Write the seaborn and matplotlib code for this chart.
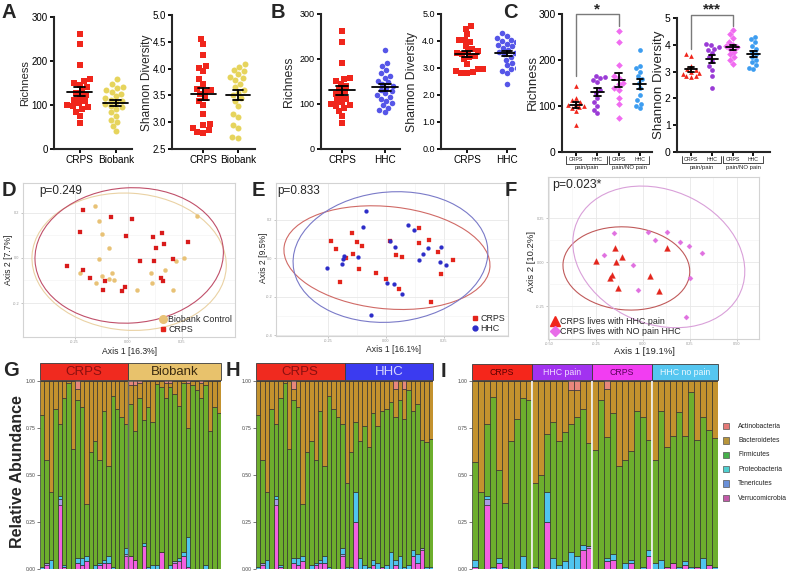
import numpy as np
import pandas as pd
import seaborn as sns
import matplotlib.pyplot as plt
from matplotlib.patches import Ellipse, Rectangle
from matplotlib.lines import Line2D

# ---------------- alpha diversity (A, B) ----------------
crps_rich = [262, 238, 191, 158, 155, 150, 145, 140, 132, 128, 122, 118, 112, 108, 104, 100, 97, 95, 92, 85, 74, 58]
crps_shan = [4.55, 4.45, 4.25, 4.05, 4.02, 3.95, 3.8, 3.72, 3.62, 3.6, 3.57, 3.52, 3.45, 3.4, 3.32, 3.15, 2.97, 2.95, 2.9, 2.86, 2.82, 2.8]
bio_rich = [158, 148, 142, 138, 134, 130, 126, 120, 116, 112, 110, 106, 102, 98, 95, 90, 84, 76, 66, 62, 52, 40]
bio_shan = [4.08, 4.03, 3.98, 3.95, 3.9, 3.85, 3.82, 3.78, 3.72, 3.65, 3.6, 3.55, 3.5, 3.45, 3.4, 3.3, 3.15, 3.1, 2.95, 2.9, 2.73, 2.7]
hhc_rich = [221, 190, 185, 176, 168, 163, 158, 152, 148, 145, 140, 136, 132, 128, 124, 120, 116, 112, 107, 102, 97, 92, 86, 82]
hhc_shan = [4.3, 4.2, 4.1, 4.05, 4.0, 3.95, 3.9, 3.85, 3.8, 3.75, 3.7, 3.65, 3.6, 3.55, 3.5, 3.4, 3.3, 3.2, 3.1, 3.0, 2.95, 2.9, 2.8, 2.4]

# ---------------- households (C) ----------------
c_names = ['CRPS pain/pain', 'HHC pain/pain', 'CRPS pain/NO pain', 'HHC pain/NO pain']
c_rich_crps_pain = [143, 118, 112, 108, 105, 102, 100, 98, 95, 90, 58]
c_rich_hhc_pain = [165, 163, 160, 157, 152, 135, 128, 118, 108, 100, 92, 84]
c_rich_crps_nopain = [262, 240, 190, 165, 160, 150, 148, 140, 135, 118, 105, 75]
c_rich_hhc_nopain = [221, 188, 182, 175, 165, 158, 150, 140, 125, 112, 105, 100, 95]
c_shan_crps_pain = [3.65, 3.6, 3.2, 3.1, 3.05, 3.0, 2.95, 2.9, 2.85, 2.82, 2.8]
c_shan_hhc_pain = [4.02, 3.98, 3.92, 3.85, 3.8, 3.7, 3.55, 3.4, 3.2, 3.05, 2.85, 2.4]
c_shan_crps_nopain = [4.55, 4.4, 4.25, 4.1, 4.0, 3.95, 3.9, 3.85, 3.75, 3.65, 3.55, 3.45, 3.3]
c_shan_hhc_nopain = [4.3, 4.22, 4.1, 3.95, 3.85, 3.75, 3.65, 3.55, 3.45, 3.35, 3.25, 3.15, 3.1]

# ---------------- PCoA (D, E, F) ----------------
d_crps_x = [-0.209, -0.081, 0.019, -0.224, -0.009, 0.118, 0.159, 0.282, 0.129, 0.168, -0.284, -0.212, 0.056, 0.121, 0.209, -0.178, -0.106, 0.156, 0.162, -0.115, -0.014, -0.029]
d_crps_y = [0.213, 0.184, 0.172, 0.117, 0.098, 0.095, 0.112, 0.072, 0.043, 0.061, -0.034, -0.053, -0.013, -0.015, -0.006, -0.090, -0.101, -0.090, -0.101, -0.142, -0.128, -0.147]
d_bio_x = [-0.153, 0.324, -0.136, -0.120, -0.089, -0.136, -0.224, -0.075, -0.120, -0.087, -0.151, -0.065, 0.106, 0.173, 0.223, 0.260, 0.114, 0.042, 0.210]
d_bio_y = [0.232, 0.188, 0.163, 0.108, 0.043, -0.006, -0.068, -0.065, -0.080, -0.095, -0.112, -0.098, -0.068, -0.053, -0.012, -0.001, -0.110, -0.141, -0.141]

e_crps_x = [-0.238, -0.216, -0.148, -0.125, -0.103, -0.144, -0.172, -0.118, -0.197, -0.043, -0.001, 0.017, 0.042, 0.070, 0.141, 0.144, 0.184, 0.225, 0.290, 0.236, 0.056, 0.193]
e_crps_y = [0.088, 0.045, 0.128, 0.082, 0.064, 0.022, 0.002, -0.056, -0.126, -0.078, -0.108, 0.088, 0.016, 0.005, 0.156, 0.079, 0.094, 0.033, -0.010, -0.083, -0.163, -0.230]
e_hhc_x = [-0.085, -0.098, -0.181, -0.185, -0.191, -0.121, -0.256, 0.017, 0.037, 0.003, 0.036, 0.069, 0.096, 0.122, 0.142, 0.158, 0.181, 0.238, 0.233, 0.257, -0.065]
e_hhc_y = [0.246, 0.159, 0.010, -0.004, -0.030, 0.007, -0.054, 0.090, 0.056, -0.131, -0.137, -0.185, 0.170, 0.145, -0.010, 0.022, 0.050, 0.059, -0.021, -0.035, -0.296]

f_pain_x = [-0.149, -0.113, -0.250, -0.144, 0.126, -0.163, -0.176, 0.037, -0.135, 0.084]
f_pain_y = [0.081, 0.030, 0.004, -0.002, 0.078, -0.074, -0.091, -0.080, -0.149, -0.163]
f_nopain_x = [-0.153, 0.028, 0.128, 0.064, 0.197, 0.243, 0.315, -0.206, -0.052, 0.248, -0.028, 0.227]
f_nopain_y = [0.163, 0.172, 0.169, 0.125, 0.112, 0.089, 0.051, 0.040, -0.015, -0.089, -0.157, -0.311]

# ---------------- relative abundance (G, H, I) ----------------
phyla = ['Verrucomicrobia', 'Tenericutes', 'Proteobacteria', 'Firmicutes', 'Bacteroidetes', 'Actinobacteria']

crps_verr = [0, 0.02, 0, 0, 0.34, 0.01, 0, 0, 0.03, 0.02, 0.04, 0, 0, 0.02, 0.03, 0.03, 0, 0, 0, 0.07]
crps_tene = [0, 0.01, 0, 0, 0.03, 0, 0, 0, 0, 0, 0, 0, 0, 0, 0, 0, 0, 0, 0, 0.01]
crps_prot = [0.01, 0, 0.05, 0, 0.02, 0.01, 0, 0, 0.03, 0.04, 0.03, 0, 0.02, 0.01, 0.02, 0.04, 0.01, 0, 0, 0.03]
crps_firm = [0.81, 0.55, 0.36, 0.85, 0.38, 0.89, 0.99, 0.64, 0.84, 0.80, 0.275, 0.62, 0.66, 0.55, 0.79, 0.48, 0.91, 0.85, 0.81, 0.66]
crps_bact = [0.18, 0.42, 0.59, 0.15, 0.23, 0.09, 0.01, 0.36, 0.06, 0.14, 0.655, 0.38, 0.32, 0.42, 0.16, 0.45, 0.08, 0.15, 0.19, 0.23]
crps_acti = [0, 0, 0, 0, 0, 0, 0, 0, 0.04, 0, 0, 0, 0, 0, 0, 0, 0, 0, 0, 0]

bio_verr = [0.07, 0.05, 0, 0.12, 0, 0, 0, 0.09, 0, 0, 0.03, 0.04, 0.07, 0.01, 0, 0, 0, 0, 0, 0, 0]
bio_tene = [0, 0, 0, 0, 0, 0, 0, 0, 0, 0, 0.01, 0, 0, 0, 0, 0, 0, 0, 0, 0, 0]
bio_prot = [0, 0, 0, 0.02, 0.01, 0.02, 0.02, 0, 0, 0.02, 0, 0.02, 0.02, 0.16, 0, 0, 0, 0.02, 0, 0, 0]
bio_firm = [0.81, 0.685, 0.91, 0.65, 0.85, 0.76, 0.965, 0.88, 0.91, 0.95, 0.89, 0.805, 0.90, 0.58, 0.98, 0.95, 0.91, 0.96, 0.735, 0.86, 0.83]
bio_bact = [0.10, 0.245, 0.08, 0.21, 0.14, 0.22, 0.015, 0.03, 0.08, 0.02, 0.07, 0.135, 0.01, 0.24, 0.02, 0.05, 0.08, 0.02, 0.265, 0.14, 0.17]
bio_acti = [0.02, 0.02, 0.01, 0, 0, 0, 0, 0, 0.01, 0.01, 0, 0, 0, 0.01, 0, 0, 0.01, 0, 0, 0, 0]

hhc_verr = [0, 0, 0.25, 0, 0, 0, 0.02, 0, 0.01, 0, 0, 0.02, 0, 0, 0, 0.07, 0.03, 0.10, 0, 0]
hhc_tene = [0, 0, 0, 0, 0, 0, 0, 0, 0, 0, 0, 0, 0, 0, 0, 0, 0, 0.01, 0, 0]
hhc_prot = [0.01, 0.01, 0.16, 0.06, 0.02, 0.01, 0.03, 0.03, 0, 0.02, 0.09, 0.03, 0.07, 0.01, 0.02, 0.03, 0.05, 0, 0.01, 0.01]
hhc_firm = [0.45, 0.61, 0.37, 0.62, 0.74, 0.64, 0.78, 0.73, 0.83, 0.83, 0.80, 0.76, 0.83, 0.79, 0.93, 0.74, 0.80, 0.575, 0.665, 0.68]
hhc_bact = [0.54, 0.38, 0.22, 0.32, 0.24, 0.35, 0.17, 0.24, 0.16, 0.15, 0.11, 0.145, 0.10, 0.16, 0.05, 0.16, 0.12, 0.315, 0.325, 0.31]
hhc_acti = [0, 0, 0, 0, 0, 0, 0, 0, 0, 0, 0, 0.045, 0, 0.04, 0, 0, 0, 0, 0, 0]

i_cp_verr = [0.01, 0, 0.34, 0, 0.03, 0, 0, 0, 0, 0]
i_cp_tene = [0, 0, 0.03, 0, 0, 0, 0, 0, 0, 0]
i_cp_prot = [0.04, 0, 0.02, 0.01, 0.03, 0.01, 0, 0, 0.07, 0]
i_cp_firm = [0.52, 0.41, 0.38, 0.905, 0.465, 0.34, 0.68, 0.80, 0.84, 0.90]
i_cp_bact = [0.43, 0.59, 0.23, 0.085, 0.475, 0.65, 0.32, 0.20, 0.09, 0.10]
i_cp_acti = [0, 0, 0, 0, 0, 0, 0, 0, 0, 0]

i_hp_verr = [0, 0, 0.25, 0, 0, 0, 0, 0, 0.10, 0.11]
i_hp_tene = [0, 0, 0, 0, 0, 0, 0, 0, 0, 0.01]
i_hp_prot = [0.01, 0, 0.16, 0.06, 0.02, 0.04, 0.09, 0.07, 0.03, 0]
i_hp_firm = [0.45, 0.50, 0.31, 0.72, 0.66, 0.69, 0.68, 0.74, 0.72, 0.55]
i_hp_bact = [0.54, 0.50, 0.28, 0.22, 0.32, 0.27, 0.18, 0.14, 0.15, 0.33]
i_hp_acti = [0, 0, 0, 0, 0, 0, 0.05, 0.05, 0, 0]

i_cn_verr = [0, 0, 0.04, 0.05, 0, 0, 0.03, 0, 0, 0.07]
i_cn_tene = [0, 0, 0, 0, 0, 0, 0, 0, 0, 0]
i_cn_prot = [0, 0, 0.02, 0.03, 0, 0.03, 0.02, 0, 0.01, 0.03]
i_cn_firm = [0.635, 0.90, 0.64, 0.75, 0.55, 0.55, 0.58, 0.84, 0.80, 0.585]
i_cn_bact = [0.365, 0.10, 0.26, 0.17, 0.45, 0.42, 0.37, 0.16, 0.19, 0.315]
i_cn_acti = [0, 0, 0.04, 0, 0, 0, 0, 0, 0, 0]

i_hn_verr = [0, 0, 0.01, 0.03, 0, 0.02, 0, 0.01, 0, 0.02, 0]
i_hn_tene = [0, 0, 0, 0, 0, 0, 0, 0, 0, 0, 0]
i_hn_prot = [0.03, 0.05, 0, 0, 0.01, 0.02, 0.01, 0, 0.06, 0, 0.01]
i_hn_firm = [0.55, 0.79, 0.64, 0.68, 0.825, 0.67, 0.93, 0.675, 0.75, 0.72, 0.685]
i_hn_bact = [0.42, 0.16, 0.35, 0.29, 0.165, 0.29, 0.06, 0.315, 0.19, 0.26, 0.305]
i_hn_acti = [0, 0, 0, 0, 0, 0, 0, 0, 0, 0, 0]

bar_colors = {'Verrucomicrobia': '#f25fe0', 'Tenericutes': '#a99ae6', 'Proteobacteria': '#4fc4ef',
              'Firmicutes': '#6dae2d', 'Bacteroidetes': '#c3922e', 'Actinobacteria': '#e8877c'}
legend_order = ['Actinobacteria', 'Bacteroidetes', 'Firmicutes', 'Proteobacteria', 'Tenericutes', 'Verrucomicrobia']
legend_colors = ['#e57a78', '#b8953a', '#46b04a', '#4fcfcf', '#6a90d8', '#c25aa8']

sns.set_theme(style='ticks')
plt.rcParams['font.family'] = ['Liberation Sans', 'DejaVu Sans']

W, H = 788, 572
fig = plt.figure(figsize=(W / 100, H / 100), dpi=100)


def px_axes(l, t, r, b):
    return fig.add_axes([l / W, 1 - b / H, (r - l) / W, (b - t) / H])


def fig_text(x, y, s, **kw):
    fig.text(x / W, 1 - y / H, s, **kw)


def letter(x, y, s):
    fig_text(x, y, s, fontsize=14.5, fontweight='bold', va='top', ha='left')


def dot_panel(ax, names, values, colors, markers, size, xlim, ylim, yticks, yticklabels, tick_fs, half, cap):
    df = pd.DataFrame({'group': np.repeat(names, [len(v) for v in values]),
                       'value': np.concatenate(values)})
    for name, c, m in zip(names, colors, markers):
        sns.swarmplot(data=df[df['group'] == name], x='group', y='value', order=names,
                      color=c, marker=m, size=size, linewidth=0, ax=ax, warn_thresh=1)
    for i, v in enumerate(values):
        mean = np.mean(v)
        sem = np.std(v, ddof=1) / np.sqrt(len(v))
        ax.plot([i - half, i + half], [mean, mean], color='black', lw=1.3, zorder=5)
        ax.plot([i, i], [mean - sem, mean + sem], color='black', lw=1.3, zorder=5)
        for yy in (mean - sem, mean + sem):
            ax.plot([i - cap, i + cap], [yy, yy], color='black', lw=1.3, zorder=5)
    ax.set_xlim(*xlim)
    ax.set_ylim(*ylim)
    ax.set_yticks(yticks)
    ax.set_yticklabels(yticklabels)
    ax.set_xlabel('')
    ax.set_ylabel('')
    sns.despine(ax=ax)
    ax.spines['left'].set_linewidth(1.5)
    ax.spines['bottom'].set_linewidth(1.5)
    ax.tick_params(width=1.3, length=3, labelsize=tick_fs, pad=1.5, colors='black')


def c_xlabels(ax):
    tr = ax.get_xaxis_transform()
    ax.set_xticklabels([])
    for base, sub in [(0, 'pain/pain'), (2, 'pain/NO pain')]:
        ax.text(base, -0.055, 'CRPS', transform=tr, ha='center', va='center', fontsize=3.8, clip_on=False)
        ax.text(base + 1, -0.055, 'HHC', transform=tr, ha='center', va='center', fontsize=3.8, clip_on=False)
        ax.plot([base - 0.45, base - 0.45, base + 1.45, base + 1.45], [-0.03, -0.085, -0.085, -0.03],
                transform=tr, color='black', lw=0.5, clip_on=False)
        ax.text(base + 0.5, -0.115, sub, transform=tr, ha='center', va='center', fontsize=4.3, clip_on=False)


def sig_bracket(ax, x1, x2, ytop, yl, yr, stars, star_y):
    ax.plot([x1, x1, x2, x2], [yl, ytop, ytop, yr], color='#7a7a7a', lw=1.0, clip_on=False)
    ax.text((x1 + x2) / 2, star_y, stars, ha='center', va='center', fontsize=11, fontweight='bold',
            transform=ax.get_xaxis_transform(), clip_on=False)


def conf_ellipse(ax, x, y, color, scale=2.7):
    cov = np.cov(x, y)
    vals, vecs = np.linalg.eigh(cov)
    order = vals.argsort()[::-1]
    vals, vecs = vals[order], vecs[:, order]
    angle = np.degrees(np.arctan2(vecs[1, 0], vecs[0, 0]))
    w, h = 2 * scale * np.sqrt(vals)
    ax.add_patch(Ellipse((np.mean(x), np.mean(y)), w, h, angle=angle, fill=False,
                         edgecolor=color, lw=0.8, zorder=2))


def pcoa_panel(ax, series, xlim, ylim, xticks, yticks, xtl, ytl, ptext, pfs, px, handles, legend_loc):
    for xs, ys, color, marker, s, ecolor in series:
        sns.scatterplot(x=xs, y=ys, color=color, marker=marker, s=s, linewidth=0.2,
                        edgecolor=color, ax=ax, zorder=3)
        conf_ellipse(ax, xs, ys, ecolor)
    ax.set_xlim(*xlim)
    ax.set_ylim(*ylim)
    ax.set_xticks(xticks)
    ax.set_yticks(yticks)
    ax.set_xticklabels(xtl)
    ax.set_yticklabels(ytl)
    ax.set_xticks([(a + b) / 2 for a, b in zip(xticks[:-1], xticks[1:])], minor=True)
    ax.set_yticks([(a + b) / 2 for a, b in zip(yticks[:-1], yticks[1:])], minor=True)
    ax.grid(True, which='major', color='#e8e8e8', lw=0.6)
    ax.grid(True, which='minor', color='#f2f2f2', lw=0.4)
    ax.set_axisbelow(True)
    ax.tick_params(which='major', labelsize=2.8, length=1.5, width=0.4, colors='#999999', pad=1)
    ax.tick_params(which='minor', length=0)
    for sp in ax.spines.values():
        sp.set_color('#d3d3d3')
        sp.set_linewidth(0.8)
    ax.set_facecolor('white')
    ax.text(px, 0.985, ptext, transform=ax.transAxes, va='top', ha='left', fontsize=pfs)
    ax.legend(handles=handles, loc=legend_loc, frameon=False, fontsize=6.4, handletextpad=0.15,
              borderaxespad=0.15, labelspacing=0.1, handlelength=0.9, borderpad=0.2)


def stack_panel(ax, hax, blocks, sep_color, sep_lw):
    x0 = 0
    for comp, name, bg, fg, fs in blocks:
        n = len(comp[0])
        xs = np.arange(x0, x0 + n)
        bottom = np.zeros(n)
        for ph, vals in zip(phyla, comp):
            ax.bar(xs, vals, bottom=bottom, width=1, align='edge', color=bar_colors[ph],
                   edgecolor='#2b2b2b', linewidth=0.45)
            bottom = bottom + np.asarray(vals, dtype=float)
        hax.add_patch(Rectangle((x0, 0), n, 1, facecolor=bg, edgecolor='#3a3a3a', lw=0.6, clip_on=False))
        hax.text(x0 + n / 2, 0.47, name, ha='center', va='center', color=fg, fontsize=fs)
        if x0 > 0:
            ax.axvline(x0, color=sep_color, lw=sep_lw, zorder=4)
        x0 += n
    ax.set_xlim(0, x0)
    ax.set_ylim(0, 1)
    hax.set_xlim(0, x0)
    hax.set_ylim(0, 1)
    hax.axis('off')
    ax.set_xticks([])
    ax.set_yticks([0, 0.25, 0.5, 0.75, 1.0])
    ax.set_yticklabels(['0.00', '0.25', '0.50', '0.75', '1.00'])
    ax.tick_params(axis='y', labelsize=3.6, length=2, width=0.5, colors='#444444', pad=1)
    for sp in ax.spines.values():
        sp.set_visible(False)


RED = '#f0261c'

# ---- A ----
ax = px_axes(54, 17, 132, 149)
dot_panel(ax, ['CRPS', 'Biobank'], [crps_rich, bio_rich], [RED, '#e6d45c'], ['s', 'o'], 4.3,
          (-0.72, 1.45), (0, 300), [0, 100, 200, 300], ['0', '100', '200', '300'], 7, 0.35, 0.15)
ax.set_xticks([0, 1])
ax.set_xticklabels(['CRPS', 'Biobank'], fontsize=7.2)
fig_text(25, 83, 'Richness', rotation=90, ha='center', va='center', fontsize=8)

ax = px_axes(172, 15, 255, 149)
dot_panel(ax, ['CRPS', 'Biobank'], [crps_shan, bio_shan], [RED, '#e6d45c'], ['s', 'o'], 4.3,
          (-0.9, 1.48), (2.5, 5.0), [2.5, 3.0, 3.5, 4.0, 4.5, 5.0], ['2.5', '3.0', '3.5', '4.0', '4.5', '5.0'], 7, 0.35, 0.15)
ax.set_xticks([0, 1])
ax.set_xticklabels(['CRPS', 'Biobank'], fontsize=7.2)
fig_text(147, 83, 'Shannon Diversity', rotation=90, ha='center', va='center', fontsize=8.6)

# ---- B ----
ax = px_axes(321, 14, 400, 149)
dot_panel(ax, ['CRPS', 'HHC'], [crps_rich, hhc_rich], [RED, '#5656e8'], ['s', 'o'], 4.0,
          (-0.49, 1.35), (0, 300), [0, 100, 200, 300], ['0', '100', '200', '300'], 6.5, 0.3, 0.13)
ax.set_xticks([0, 1])
ax.set_xticklabels(['CRPS', 'HHC'], fontsize=7.2)
fig_text(289, 82, 'Richness', rotation=90, ha='center', va='center', fontsize=8.8)

ax = px_axes(441, 14, 515, 149)
dot_panel(ax, ['CRPS', 'HHC'], [crps_shan, hhc_shan], [RED, '#5656e8'], ['s', 'o'], 4.0,
          (-0.65, 1.2), (0, 5), [0, 1, 2, 3, 4, 5], ['0.0', '1.0', '2.0', '3.0', '4.0', '5.0'], 6.5, 0.3, 0.13)
ax.set_xticks([0, 1])
ax.set_xticklabels(['CRPS', 'HHC'], fontsize=7.2)
fig_text(412, 82, 'Shannon Diversity', rotation=90, ha='center', va='center', fontsize=8.8)

# ---- C ----
c_colors = [RED, '#9a3bd6', '#f06cf0', '#3d9df0']
c_markers = ['^', 'o', 'D', 'o']
ax = px_axes(562, 14, 652, 152)
dot_panel(ax, c_names, [c_rich_crps_pain, c_rich_hhc_pain, c_rich_crps_nopain, c_rich_hhc_nopain],
          c_colors, c_markers, 3.4, (-0.66, 3.57), (0, 300), [0, 100, 200, 300], ['0', '100', '200', '300'],
          7.5, 0.3, 0.15)
c_xlabels(ax)
sig_bracket(ax, 0, 2, 300, 165, 275, '*', 1.035)
fig_text(533, 83, 'Richness', rotation=90, ha='center', va='center', fontsize=9.6)

ax = px_axes(677, 18, 770, 152)
dot_panel(ax, c_names, [c_shan_crps_pain, c_shan_hhc_pain, c_shan_crps_nopain, c_shan_hhc_nopain],
          c_colors, c_markers, 3.4, (-0.68, 3.8), (0, 5), [0, 1, 2, 3, 4, 5], ['0', '1', '2', '3', '4', '5'],
          7.5, 0.3, 0.15)
c_xlabels(ax)
sig_bracket(ax, 0, 2, 5.1, 3.85, 4.7, '***', 1.06)
fig_text(659, 85, 'Shannon Diversity', rotation=90, ha='center', va='center', fontsize=9.6)

# ---- D ----
ax = px_axes(23, 183, 235, 337)
pcoa_panel(ax, [(d_bio_x, d_bio_y, '#e8c276', 'o', 9, '#ead2a4'),
                (d_crps_x, d_crps_y, '#d81b1b', 's', 10, '#c0506a')],
           (-0.491, 0.5), (-0.351, 0.333), [-0.25, 0, 0.25], [-0.2, 0, 0.2],
           ['-0.25', '0.00', '0.25'], ['-0.2', '0.0', '0.2'], 'p=0.249', 8.5, 0.075,
           [Line2D([], [], marker='o', ls='', color='#e8c276', markersize=5.5, label='Biobank Control'),
            Line2D([], [], marker='s', ls='', color='#e3241b', markersize=3.5, label='CRPS')], 'lower right')
fig_text(129, 351, 'Axis 1 [16.3%]', ha='center', va='center', fontsize=6.2)
fig_text(9, 260, 'Axis 2 [7.7%]', rotation=90, ha='center', va='center', fontsize=6.2)

# ---- E ----
ax = px_axes(276, 183, 508, 336)
pcoa_panel(ax, [(e_crps_x, e_crps_y, '#e3241b', 's', 10, '#d06a66'),
                (e_hhc_x, e_hhc_y, '#2c2cc8', 'o', 8, '#7a7ac8')],
           (-0.474, 0.526), (-0.405, 0.39), [-0.25, 0, 0.25], [-0.4, -0.2, 0, 0.2],
           ['-0.25', '0.00', '0.25'], ['-0.4', '-0.2', '0.0', '0.2'], 'p=0.833', 8.5, 0.005,
           [Line2D([], [], marker='s', ls='', color='#e3241b', markersize=3.5, label='CRPS'),
            Line2D([], [], marker='o', ls='', color='#2c2cc8', markersize=3.5, label='HHC')], 'lower right')
fig_text(393, 350, 'Axis 1 [16.1%]', ha='center', va='center', fontsize=6.2)
fig_text(263, 258, 'Axis 2 [9.5%]', rotation=90, ha='center', va='center', fontsize=6.2)

# ---- F ----
ax = px_axes(548, 177, 759, 339)
pcoa_panel(ax, [(f_pain_x, f_pain_y, '#e3241b', '^', 18, '#c05a5a'),
                (f_nopain_x, f_nopain_y, '#e070e0', 'D', 7, '#d9a0d9')],
           (-0.505, 0.617), (-0.4375, 0.483), [-0.5, -0.25, 0, 0.25, 0.5], [-0.25, 0, 0.25],
           ['-0.50', '-0.25', '0.00', '0.25', '0.50'], ['-0.25', '0.00', '0.25'], 'p=0.023*', 8.8, 0.02,
           [Line2D([], [], marker='^', ls='', color='#f0261c', markersize=7, label='CRPS lives with HHC pain'),
            Line2D([], [], marker='D', ls='', color='#e86ce8', markersize=5, label='CRPS lives with NO pain HHC')],
           'lower left')
fig_text(644, 352, 'Axis 1 [19.1%]', ha='center', va='center', fontsize=6.8)
fig_text(531, 262, 'Axis 2 [10.2%]', rotation=90, ha='center', va='center', fontsize=6.8)

# ---- G ----
crps_comp = [crps_verr, crps_tene, crps_prot, crps_firm, crps_bact, crps_acti]
ax = px_axes(40, 381, 221, 569)
hax = px_axes(40, 363, 221, 380)
stack_panel(ax, hax, [(crps_comp, 'CRPS', '#f02a1f', '#8a1010', 9.5),
                      ([bio_verr, bio_tene, bio_prot, bio_firm, bio_bact, bio_acti], 'Biobank', '#e8c26c', '#3a2a10', 9.5)],
            '#666666', 1.0)
fig_text(18, 472, 'Relative Abundance', rotation=90, ha='center', va='center', fontsize=11.5, fontweight='bold')

# ---- H ----
ax = px_axes(256, 381, 433, 569)
hax = px_axes(256, 363, 433, 380)
stack_panel(ax, hax, [(crps_comp, 'CRPS', '#f02a1f', '#8a1010', 9.5),
                      ([hhc_verr, hhc_tene, hhc_prot, hhc_firm, hhc_bact, hhc_acti], 'HHC', '#3b3bf0', '#d6d6ff', 9.5)],
            '#444444', 0.8)

# ---- I ----
ax = px_axes(472, 381, 718, 569)
hax = px_axes(472, 364, 718, 380)
stack_panel(ax, hax, [([i_cp_verr, i_cp_tene, i_cp_prot, i_cp_firm, i_cp_bact, i_cp_acti], 'CRPS', '#f5261b', '#5a0000', 6.3),
                      ([i_hp_verr, i_hp_tene, i_hp_prot, i_hp_firm, i_hp_bact, i_hp_acti], 'HHC pain', '#a232f0', '#f0dcff', 6.3),
                      ([i_cn_verr, i_cn_tene, i_cn_prot, i_cn_firm, i_cn_bact, i_cn_acti], 'CRPS', '#f23df2', '#5a005a', 6.3),
                      ([i_hn_verr, i_hn_tene, i_hn_prot, i_hn_firm, i_hn_bact, i_hn_acti], 'HHC no pain', '#55c6f0', '#eaf8ff', 6.3)],
            'white', 1.2)

# legend for I
lax = px_axes(718, 410, 788, 510)
lax.set_xlim(718, 788)
lax.set_ylim(510, 410)
lax.axis('off')
for k, (name, col) in enumerate(zip(legend_order, legend_colors)):
    yy = 426 + k * 14.4
    lax.add_patch(Rectangle((723, yy - 3.2), 6.4, 6.4, facecolor=col, edgecolor='#555555', lw=0.5))
    lax.text(738, yy, name, fontsize=4.9, va='center', ha='left', color='#222222')

# panel letters
letter(2, 3, 'A')
letter(271, 3, 'B')
letter(503, 3, 'C')
letter(2, 181, 'D')
letter(252, 181, 'E')
letter(505, 181, 'F')
letter(3, 361, 'G')
letter(226, 361, 'H')
letter(441, 362, 'I')

fig.savefig('out.png', dpi=100)
